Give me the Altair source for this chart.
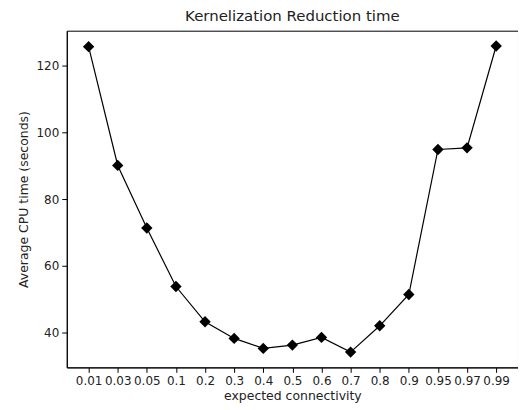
import altair as alt
import pandas as pd

connectivity = ["0.01", "0.03", "0.05", "0.1", "0.2", "0.3", "0.4", "0.5",
                "0.6", "0.7", "0.8", "0.9", "0.95", "0.97", "0.99"]
cpu_time = [125.8, 90.1, 71.3, 53.7, 43.1, 38.1, 35.1, 36.1,
            38.4, 34.0, 41.9, 51.3, 94.9, 95.4, 126.0]

df = pd.DataFrame({"conn": connectivity, "time": cpu_time})

font = "DejaVu Sans"

x = alt.X("conn:N", sort=connectivity,
          scale=alt.Scale(type="point", padding=0.75),
          axis=alt.Axis(title="expected connectivity", labelAngle=0,
                        labelFontSize=12, titleFontSize=12.5, titleFontWeight="normal",
                        labelColor="#222222", titleColor="#222222",
                        tickColor="black", domainColor="black", tickSize=5,
                        labelPadding=3, titlePadding=3, grid=False))
y = alt.Y("time:Q",
          scale=alt.Scale(domain=[29.4, 130.6], nice=False, zero=False),
          axis=alt.Axis(title="Average CPU time (seconds)", values=[40, 60, 80, 100, 120],
                        labelFontSize=12, titleFontSize=12.5, titleFontWeight="normal",
                        labelColor="#222222", titleColor="#222222",
                        tickColor="black", domainColor="black", tickSize=5,
                        labelPadding=3, titlePadding=6, grid=False))

line = alt.Chart(df).mark_line(color="black", strokeWidth=1.2).encode(x=x, y=y)
pts = alt.Chart(df).mark_point(shape="diamond", filled=True, color="black",
                               size=130, opacity=1).encode(x=x, y=y)

chart = (line + pts).properties(
    width=453, height=338,
    title=alt.TitleParams("Kernelization Reduction time", fontSize=15,
                          fontWeight="normal", font=font, color="#222222", offset=7),
    autosize=alt.AutoSizeParams(type="none"),
    padding={"left": 59, "top": 22, "right": 0, "bottom": 42},
).configure(font=font).configure_view(stroke="black", strokeWidth=1)

chart.save("out.html", embed_options={"renderer": "svg", "actions": False})
